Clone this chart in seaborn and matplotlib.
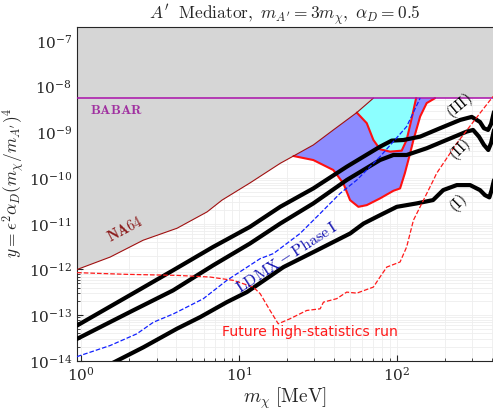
import numpy as np
import matplotlib
matplotlib.use("Agg")
import matplotlib.pyplot as plt
import seaborn as sns

# -- data (m_chi in MeV, y dimensionless) -------------------------------------
babar_y = 5.6e-9

na64_m = [0.943, 1.526, 2.47, 4.05, 6.27, 7.8, 11.7, 18.2, 22.1, 29.5, 39.5, 55.6, 70.8]
na64_y = [1.0e-12, 1.87e-12, 4.37e-12, 8.0e-12, 1.82e-11, 3.3e-11, 7.8e-11,
          2.1e-10, 3.04e-10, 5.3e-10, 1.13e-9, 2.71e-9, 5.6e-9]

# outer (blue) region boundary, from NA64 edge down and back up to BABAR
blue_m = [22.1, 29.5, 39.5, 45.7, 50.4, 56.9, 64.3, 78.0, 94.8, 104.5, 112, 121, 127, 140, 154, 174]
blue_y = [3.04e-10, 2.48e-10, 1.5e-10, 7.66e-11, 3.3e-11, 2.35e-11, 2.56e-11, 3.59e-11,
          5.27e-11, 5.94e-11, 1.27e-10, 3.48e-10, 6.83e-10, 2.22e-9, 4.37e-9, 5.6e-9]

# inner (cyan) region boundary
cyan_m = [55.6, 64.3, 70.8, 78.0, 90.3, 107, 115, 124, 132]
cyan_y = [2.71e-9, 1.59e-9, 6.83e-10, 4.27e-10, 3.79e-10, 3.98e-10, 6.83e-10, 2.07e-9, 5.6e-9]

# thick black curves
c3_m = [0.943, 2.13, 3.82, 6.84, 11.7, 18.2, 29.5, 48.0, 78.0, 92.5, 109.6, 140, 187, 251,
        297, 335, 355, 377, 394, 411]
c3_y = [5.96e-14, 3.0e-13, 9.6e-13, 3.11e-12, 8.55e-12, 2.35e-11, 5.94e-11, 1.77e-10,
        4.86e-10, 6.6e-10, 6.8e-10, 8.07e-10, 1.23e-9, 1.87e-9, 2.18e-9, 1.69e-9, 1.23e-9,
        1.13e-9, 1.53e-9, 2.81e-9]

c2_m = [0.943, 2.13, 3.82, 6.84, 11.7, 18.2, 29.5, 48.0, 78.0, 94.8, 115, 154, 206, 276,
        303, 330, 355, 378, 394, 411]
c2_y = [3.04e-14, 1.27e-13, 3.49e-13, 1.23e-12, 3.69e-12, 1.01e-11, 2.79e-11, 9.06e-11,
        2.48e-10, 3.2e-10, 3.2e-10, 4.49e-10, 6.83e-10, 1.04e-9, 1.13e-9, 8.07e-10,
        5.31e-10, 4.12e-10, 5.86e-10, 1.13e-9]

c1_m = [1.5, 2.48, 4.03, 5.66, 8.36, 11.2, 19.1, 31.1, 50.4, 61.3, 74.4, 99.6, 133, 169,
        196, 239, 290, 335, 360, 384, 397, 411]
c1_y = [8.2e-15, 1.99e-14, 5.04e-14, 9.06e-14, 1.93e-13, 3.2e-13, 1.13e-12, 2.63e-12,
        6.12e-12, 1.01e-11, 1.42e-11, 2.35e-11, 2.79e-11, 3.3e-11, 5.46e-11, 7.03e-11,
        7.03e-11, 5.46e-11, 4.24e-11, 3.78e-11, 5.46e-11, 9.06e-11]

# LDMX Phase I projection
ldmx_m = [0.94, 1.526, 2.25, 2.87, 3.84, 5.14, 5.94, 8.36, 13.6, 16.5, 24.3, 32.6, 43.6,
          55.6, 78.0, 115, 140]
ldmx_y = [1.24e-14, 2.17e-14, 3.91e-14, 7.03e-14, 1.07e-13, 1.78e-13, 2.3e-13, 5.78e-13,
          1.73e-12, 2.23e-12, 6.12e-12, 1.68e-11, 4.62e-11, 9.06e-11, 2.94e-10, 1.34e-9,
          5.6e-9]

# future high-statistics run
fut_m = [0.943, 1.95, 4.03, 6.55, 9.2, 12.3, 13.6, 15.7, 17.7, 21.0, 26.8, 32.6, 34.2,
         41.5, 48.0, 55.6, 70.8, 78.0, 86.1, 104.5, 115, 127, 147, 170, 178, 239, 335, 405]
fut_y = [8.53e-13, 7.83e-13, 7.44e-13, 6.84e-13, 5.78e-13, 4.12e-13, 2.95e-13, 1.27e-13,
         6.49e-14, 8.36e-14, 1.27e-13, 1.38e-13, 1.93e-13, 2.3e-13, 3.2e-13, 3.04e-13,
         4.12e-13, 6.84e-13, 1.13e-12, 1.46e-12, 3.11e-12, 1.2e-11, 3.3e-11, 9.06e-11,
         1.27e-10, 5.78e-10, 2.63e-9, 6.1e-9]

# -- style --------------------------------------------------------------------
sns.set_style("ticks")
plt.rcParams["font.family"] = ["DejaVu Serif"]
plt.rcParams["mathtext.fontset"] = "cm"

fig = plt.figure(figsize=(4.93, 4.12), dpi=100)
ax = fig.add_axes([0.156, 0.124, 0.844, 0.81])
ax.set_xscale("log")
ax.set_yscale("log")
ax.set_xlim(0.94, 405)
ax.set_ylim(1e-14, 2e-7)

# excluded region (grey), above NA64 and BABAR
gx = na64_m + [1e4, 1e4, na64_m[0] * 0.5, na64_m[0] * 0.5]
gy = na64_y + [babar_y, 1e-5, 1e-5, na64_y[0]]
ax.fill(gx, gy, color="#d6d6d6", lw=0, zorder=1)

# blue region
i0 = na64_m.index(blue_m[0])
bx = blue_m + na64_m[i0:][::-1]
by = blue_y + na64_y[i0:][::-1]
ax.fill(bx, by, color="#8c8cff", lw=0, zorder=2)

# cyan region
i1 = na64_m.index(cyan_m[0])
cx = cyan_m + na64_m[i1:][::-1]
cy = cyan_y + na64_y[i1:][::-1]
ax.fill(cx, cy, color="#8cffff", lw=0, zorder=3)

sns.lineplot(x=blue_m, y=blue_y, ax=ax, color="#ff1010", lw=1.5, sort=False,
             estimator=None, zorder=4)
sns.lineplot(x=cyan_m, y=cyan_y, ax=ax, color="#ff1010", lw=1.5, sort=False,
             estimator=None, zorder=4)

sns.lineplot(x=na64_m, y=na64_y, ax=ax, color="#a01010", lw=0.8, sort=False,
             estimator=None, zorder=5)
ax.axhline(babar_y, color="#aa10aa", lw=1.1, zorder=5)

for m, y in [(c3_m, c3_y), (c2_m, c2_y), (c1_m, c1_y)]:
    sns.lineplot(x=m, y=y, ax=ax, color="black", lw=3.0, sort=False,
                 estimator=None, zorder=6)

sns.lineplot(x=ldmx_m, y=ldmx_y, ax=ax, color="#1020ff", lw=0.9, ls="--",
             sort=False, estimator=None, zorder=7)
sns.lineplot(x=fut_m, y=fut_y, ax=ax, color="#ff1a1a", lw=0.9, ls="--",
             sort=False, estimator=None, zorder=7)

# -- labels -------------------------------------------------------------------
ax.text(1.14, 3.1e-9, r"$\mathbf{BABAR}$", color="#a030a0", fontsize=10,
        ha="left", va="center", zorder=8)
ax.text(1.9, 7.6e-12, r"$\mathbf{NA64}$", color="#8b1a1a", fontsize=10.5,
        rotation=28, ha="center", va="center", zorder=8)
ax.text(20.1, 1.85e-12, r"$\mathrm{LDMX-Phase\,I}$", color="#1010b0", fontsize=11.5,
        rotation=33, ha="center", va="center", zorder=8)
ax.text(250, 3.8e-9, r"$\mathrm{(III)}$", color="black", fontsize=11,
        rotation=40, ha="center", va="center", zorder=8)
ax.text(250, 4.1e-10, r"$\mathrm{(II)}$", color="black", fontsize=11,
        rotation=45, ha="center", va="center", zorder=8)
ax.text(243, 2.83e-11, r"$\mathrm{(I)}$", color="black", fontsize=11,
        rotation=45, ha="center", va="center", zorder=8)
ax.text(7.8, 4.25e-14, "Future high-statistics run", color="#ff1a1a",
        fontsize=10.1, family="DejaVu Sans", ha="left", va="center", zorder=8)

ax.set_title(r"$A'\ \ \mathrm{Mediator},\ m_{A'}=3m_\chi,\ \alpha_D=0.5$",
             fontsize=12.5, pad=6)
ax.set_xlabel(r"$m_\chi\ [\mathrm{MeV}]$", fontsize=14, labelpad=1)
ax.set_ylabel(r"$y=\epsilon^2\alpha_D(m_\chi/m_{A'})^4$", fontsize=12.5)
ax.yaxis.set_label_coords(-0.12, 0.533)

ax.grid(True, which="both", color="#eeeeee", lw=0.6, zorder=0)
ax.set_axisbelow(True)
ax.tick_params(which="both", direction="in", labelsize=11)
ax.tick_params(which="minor", length=2.5)
ax.tick_params(which="major", length=4)
ax.spines["right"].set_visible(False)

fig.savefig("out.png", dpi=100)
